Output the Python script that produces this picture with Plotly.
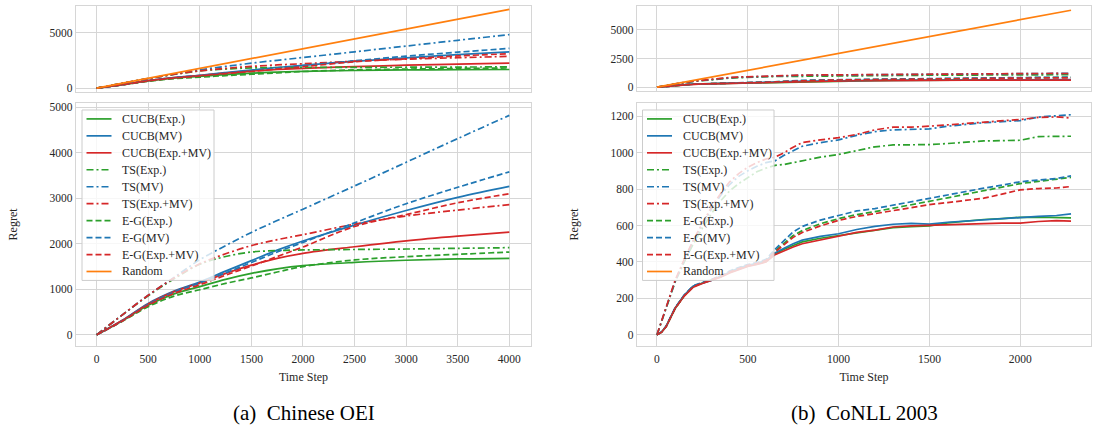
import plotly.graph_objects as go

# ---------------- (a) Chinese OEI ----------------
steps_a = [0, 250, 500, 750, 1000, 1250, 1500, 1750, 2000, 2500, 3000, 3500, 4000]
a_cucb_exp = [0, 310, 650, 900, 1060, 1220, 1350, 1450, 1520, 1590, 1638, 1667, 1681]
a_cucb_mv = [0, 320, 690, 960, 1160, 1400, 1630, 1860, 2060, 2410, 2730, 3020, 3260]
a_cucb_both = [0, 320, 680, 950, 1140, 1350, 1530, 1680, 1790, 1935, 2065, 2167, 2254]
a_ts_exp = [0, 440, 860, 1230, 1550, 1720, 1820, 1850, 1865, 1875, 1885, 1900, 1915]
a_ts_mv = [0, 440, 870, 1260, 1650, 1960, 2250, 2510, 2760, 3270, 3790, 4310, 4820]
a_ts_both = [0, 440, 870, 1250, 1560, 1780, 1960, 2090, 2200, 2430, 2610, 2740, 2860]
a_eg_exp = [0, 300, 620, 850, 990, 1130, 1250, 1380, 1500, 1645, 1717, 1768, 1819]
a_eg_mv = [0, 310, 670, 940, 1140, 1360, 1590, 1820, 2030, 2460, 2880, 3240, 3580]
a_eg_both = [0, 305, 650, 910, 1100, 1310, 1510, 1720, 1930, 2380, 2640, 2900, 3100]
a_rand_steps = [0, 1000, 2000, 3000, 4000]
a_random = [0, 1775, 3550, 5325, 7100]

# ---------------- (b) CoNLL 2003 ----------------
steps_b = [0, 25, 50, 75, 100, 150, 200, 250, 300, 350, 400, 450, 500, 550, 600,
           650, 700, 750, 800, 900, 1000, 1100, 1200, 1300, 1400, 1500, 1600, 1700,
           1800, 1900, 2000, 2100, 2200, 2280]
b_cucb_exp = [0, 15, 45, 92, 145, 215, 265, 285, 300, 318, 342, 362, 378, 388, 402,
              445, 470, 490, 510, 530, 545, 560, 572, 588, 594, 598, 615, 626, 633, 638, 645, 646, 645, 642]
b_cucb_mv = [0, 16, 46, 96, 148, 218, 268, 283, 298, 322, 346, 366, 382, 392, 408,
             450, 475, 500, 520, 540, 555, 578, 595, 607, 612, 608, 618, 625, 630, 636, 645, 650, 655, 664]
b_cucb_both = [0, 14, 44, 94, 146, 213, 262, 282, 297, 316, 340, 360, 376, 386, 400,
               440, 462, 482, 500, 520, 538, 562, 575, 592, 598, 600, 603, 606, 610, 613, 613, 622, 627, 624]
b_ts_exp = [0, 75, 150, 222, 290, 400, 500, 585, 665, 735, 790, 830, 865, 895, 915,
            930, 935, 945, 955, 975, 990, 1012, 1032, 1042, 1042, 1044, 1050, 1057, 1064, 1066, 1068, 1088, 1090, 1090]
b_ts_mv = [0, 75, 150, 225, 295, 410, 515, 605, 690, 765, 825, 870, 900, 925, 945,
           955, 985, 1010, 1035, 1055, 1070, 1095, 1115, 1125, 1127, 1130, 1145, 1155, 1164, 1170, 1176, 1195, 1200, 1208]
b_ts_both = [0, 78, 155, 230, 300, 415, 520, 612, 700, 775, 840, 885, 920, 945, 965,
             975, 1000, 1030, 1055, 1070, 1082, 1100, 1125, 1140, 1140, 1145, 1152, 1157, 1164, 1172, 1182, 1193, 1196, 1190]
b_eg_exp = [0, 15, 46, 95, 146, 216, 266, 286, 302, 322, 347, 367, 383, 393, 410,
            460, 505, 545, 572, 610, 638, 660, 676, 694, 712, 732, 752, 772, 792, 810, 830, 842, 852, 864]
b_eg_mv = [0, 16, 47, 97, 149, 219, 270, 288, 304, 325, 350, 370, 386, 396, 414,
           470, 520, 565, 595, 630, 655, 680, 693, 712, 730, 750, 765, 785, 805, 822, 840, 850, 858, 872]
b_eg_both = [0, 15, 45, 93, 145, 214, 264, 284, 300, 320, 345, 365, 381, 391, 408,
             455, 495, 535, 562, 598, 628, 650, 665, 682, 700, 715, 726, 738, 750, 772, 796, 803, 806, 814]
b_rand_steps = [0, 500, 1000, 1500, 2000, 2280]
b_random = [0, 1470, 2940, 4410, 5880, 6700]

names = ["CUCB(Exp.)", "CUCB(MV)", "CUCB(Exp.+MV)", "TS(Exp.)", "TS(MV)", "TS(Exp.+MV)",
         "E-G(Exp.)", "E-G(MV)", "E-G(Exp.+MV)", "Random"]

GREEN, BLUE, RED, ORANGE = "#2ca02c", "#1f77b4", "#d62728", "#ff7f0e"
SOLID, DASHDOT, DASHED = "solid", "7px,3px,2px,3px", "6px,3px"
styles = [(GREEN, SOLID), (BLUE, SOLID), (RED, SOLID),
          (GREEN, DASHDOT), (BLUE, DASHDOT), (RED, DASHDOT),
          (GREEN, DASHED), (BLUE, DASHED), (RED, DASHED),
          (ORANGE, SOLID)]

series_a = [a_cucb_exp, a_cucb_mv, a_cucb_both, a_ts_exp, a_ts_mv, a_ts_both,
            a_eg_exp, a_eg_mv, a_eg_both]
series_b = [b_cucb_exp, b_cucb_mv, b_cucb_both, b_ts_exp, b_ts_mv, b_ts_both,
            b_eg_exp, b_eg_mv, b_eg_both]

FONT = "Liberation Serif, Times New Roman, serif"
LW = 1.7
fig = go.Figure()


def add_panel(steps, series, rsteps, rvals, xb, yb, xt, yt, shape):
    # top (overview) subplot, including Random
    for i, ys in enumerate(series):
        c, d = styles[i]
        fig.add_trace(go.Scatter(x=steps, y=ys, mode="lines", name=names[i],
                                 line=dict(color=c, dash=d, width=LW, shape=shape),
                                 xaxis=xt, yaxis=yt, showlegend=False, hoverinfo="skip"))
    fig.add_trace(go.Scatter(x=rsteps, y=rvals, mode="lines", name="Random",
                             line=dict(color=ORANGE, width=LW),
                             xaxis=xt, yaxis=yt, showlegend=False, hoverinfo="skip"))
    # bottom (zoomed) subplot
    for i, ys in enumerate(series):
        c, d = styles[i]
        fig.add_trace(go.Scatter(x=steps, y=ys, mode="lines", name=names[i],
                                 line=dict(color=c, dash=d, width=LW, shape=shape),
                                 xaxis=xb, yaxis=yb, showlegend=False, hoverinfo="skip"))


add_panel(steps_a, series_a, a_rand_steps, a_random, "x", "y", "x2", "y2", "spline")
add_panel(steps_b, series_b, b_rand_steps, b_random, "x3", "y3", "x4", "y4", "linear")

GRID = "#d6d6d6"
TICKFONT = dict(family=FONT, size=11.5, color="#262626")


def ax(**kw):
    base = dict(showgrid=True, gridcolor=GRID, gridwidth=1.1, zeroline=False,
                showline=True, linecolor=GRID, linewidth=1.3, mirror=True,
                ticks="", tickfont=TICKFONT, showspikes=False)
    base.update(kw)
    return base


W, H = 1094, 434
xa_dom = [76 / W, 531 / W]
xb_dom = [637 / W, 1091 / W]
yb_dom = [1 - 347 / H, 1 - 102 / H]
yt_dom_a = [1 - 91 / H, 1 - 4 / H]
yt_dom_b = [1 - 90 / H, 1 - 4 / H]

title_font = dict(family=FONT, size=12, color="#262626")

# ---- legend boxes (matplotlib-style, drawn in paper space) ----
shapes, annotations = [], []


def add_legend(left, top, right, bottom):
    shapes.append(dict(type="rect", xref="paper", yref="paper", layer="above",
                       x0=left / W, x1=right / W, y0=1 - bottom / H, y1=1 - top / H,
                       fillcolor="rgba(255,255,255,0.8)",
                       line=dict(color="#cccccc", width=1)))
    row0, gap = top + 9, (bottom - top - 18) / (len(names) - 1)
    for i, nm in enumerate(names):
        c, d = styles[i]
        yy = 1 - (row0 + i * gap) / H
        shapes.append(dict(type="line", xref="paper", yref="paper", layer="above",
                           x0=(left + 4.5) / W, x1=(left + 29.5) / W, y0=yy, y1=yy,
                           line=dict(color=c, dash=d, width=LW)))
        annotations.append(dict(text=nm, x=(left + 38) / W, y=yy, xref="paper", yref="paper",
                                showarrow=False, xanchor="left", yanchor="middle",
                                font=dict(family=FONT, size=12, color="#262626")))


add_legend(82, 109, 214, 281)
add_legend(642.5, 109, 774, 281)

for txt, cx in [("(a)  Chinese OEI", (76 + 531) / 2), ("(b)  CoNLL 2003", (637 + 1091) / 2)]:
    annotations.append(dict(text=txt, x=cx / W, y=1 - 415 / H, xref="paper", yref="paper",
                            showarrow=False, xanchor="center", yanchor="middle",
                            font=dict(family=FONT, size=21, color="black")))

fig.update_layout(
    width=W, height=H, margin=dict(l=0, r=0, t=0, b=0),
    paper_bgcolor="white", plot_bgcolor="white", showlegend=False, hovermode=False,
    dragmode=False,
    font=dict(family=FONT, color="#262626"),
    xaxis=ax(domain=xa_dom, anchor="y", range=[-200, 4210], dtick=500, tick0=0,
             ticklabelstandoff=2,
             title=dict(text="Time Step", font=title_font, standoff=8)),
    yaxis=ax(domain=yb_dom, anchor="x", range=[-240, 5090], dtick=1000, tick0=0,
             ticklabelstandoff=0,
             title=dict(text="Regret", font=title_font, standoff=29)),
    xaxis2=ax(domain=xa_dom, anchor="y2", range=[-200, 4210], dtick=500, tick0=0,
              showticklabels=False),
    yaxis2=ax(domain=yt_dom_a, anchor="x2", range=[-360, 7400], dtick=5000, tick0=0,
              ticklabelstandoff=0),
    xaxis3=ax(domain=xb_dom, anchor="y3", range=[-110, 2390], dtick=500, tick0=0,
              ticklabelstandoff=2,
              title=dict(text="Time Step", font=title_font, standoff=8)),
    yaxis3=ax(domain=yb_dom, anchor="x3", range=[-60, 1272], dtick=200, tick0=0,
              ticklabelstandoff=0,
              title=dict(text="Regret", font=title_font, standoff=29)),
    xaxis4=ax(domain=xb_dom, anchor="y4", range=[-110, 2390], dtick=500, tick0=0,
              showticklabels=False),
    yaxis4=ax(domain=yt_dom_b, anchor="x4", range=[-345, 7070], dtick=2500, tick0=0,
              ticklabelstandoff=0),
    shapes=shapes,
    annotations=annotations,
)

fig.write_html("out.html", config={"displayModeBar": False},
               post_script="document.body.style.margin='0';document.body.style.overflow='hidden';")
